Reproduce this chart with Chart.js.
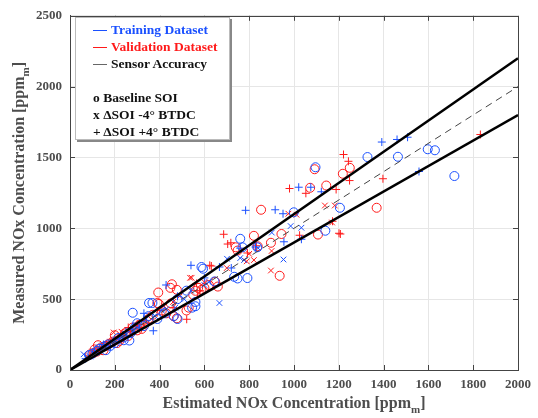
<!DOCTYPE html>
<html>
<head>
<meta charset="utf-8">
<script src="https://cdn.jsdelivr.net/npm/chart.js@4/dist/chart.umd.min.js"></script>
<style>
  body { margin: 0; background: #fff; }
  #wrap { position: relative; width: 538px; height: 418px; }
  #legend {
    position: absolute; left: 75px; top: 17px; width: 155px; height: 123px;
    background: #fff; border: 1px solid #bbb; box-shadow: 2px 2px 0 #888;
    font-family: 'Liberation Serif', serif; font-weight: bold; font-size: 13.5px;
    box-sizing: border-box; padding: 3px 0 0 17px; line-height: 17px;
  }
  #legend .ln { display: inline-block; width: 14px; height: 0; border-top: 1px solid; vertical-align: middle; margin-right: 4px; }
</style>
</head>
<body>
<div id="wrap">
  <canvas id="js-chart" width="538" height="418"></canvas>
  <div id="legend">
    <div style="color:#1a50ff"><span class="ln"></span>Training Dataset</div>
    <div style="color:#ff1a1a"><span class="ln"></span>Validation Dataset</div>
    <div style="color:#111"><span class="ln" style="border-color:#666"></span>Sensor Accuracy</div>
    <div>&nbsp;</div>
    <div style="color:#111">o Baseline SOI</div>
    <div style="color:#111">x ΔSOI -4° BTDC</div>
    <div style="color:#111">+ ΔSOI +4° BTDC</div>
  </div>
</div>
<script>
const xTicks = [0, 200, 400, 600, 800, 1000, 1200, 1400, 1600, 1800, 2000];
const yTicks = [0, 500, 1000, 1500, 2000, 2500];

// [estimated, measured]
const trainBaseline = [
  [1328,1503],[1464,1505],[1597,1558],[1629,1551],[1716,1369],[1096,1431],[1205,1145],[999,1113],
  [1140,983],[760,926],[770,866],[836,866],[733,658],[748,646],[792,649],[645,625],[594,715],[587,727],
  [353,473],[368,473],[280,404],[463,381],[265,208],[520,560],[560,450],[545,440],[480,360],[300,330],
  [420,400],[390,360],[240,230],[200,190],[170,180],[150,165],[120,135],[100,115],[85,105],[270,260],
  [330,310],[240,210],[480,500],[560,480],[130,150],[180,170],[215,225],[160,140],[290,300],[350,380]
];
const trainMinus4 = [
  [985,1016],[1033,1004],[953,780],[901,970],[777,776],[701,785],[667,473],[620,620],[540,560],[510,500],
  [470,440],[430,430],[380,380],[340,360],[300,300],[250,250],[200,210],[160,160],[130,140],[61,111],
  [90,95],[760,790],[840,860],[600,600],[110,120],[230,240],[280,270],[410,420]
];
const trainPlus4 = [
  [1392,1609],[1460,1627],[1507,1643],[1558,1401],[1021,1290],[1075,1290],[1122,1258],[784,1127],
  [916,1131],[951,1103],[1033,923],[955,905],[828,868],[540,739],[667,727],[429,600],[372,277],[720,720],
  [760,860],[600,650],[480,520],[330,400],[280,290],[220,220],[180,170],[140,150],[110,120],[70,80],
  [150,180],[250,270],[200,200]
];
const validBaseline = [
  [1092,1417],[1249,1427],[1218,1385],[1072,1286],[1144,1302],[1369,1145],[1107,956],[944,960],[897,898],
  [936,665],[853,1131],[821,947],[838,873],[740,866],[748,843],[660,589],[648,623],[572,580],[560,559],
  [550,531],[587,566],[455,605],[448,580],[477,566],[394,547],[397,466],[390,473],[477,365],[463,379],
  [410,420],[430,400],[450,470],[520,420],[530,440],[330,330],[300,280],[260,240],[230,230],[210,190],
  [190,200],[160,170],[140,160],[120,130],[110,145],[90,110],[310,320],[350,360],[600,580],[620,600],
  [125,175],[175,185],[200,245],[245,260],[280,300],[150,140],[105,120],[220,205],[320,290],[370,390]
];
const validMinus4 = [
  [1138,1161],[1182,1161],[975,1103],[1011,1096],[1170,1041],[897,702],[900,840],[821,776],[789,767],
  [543,651],[536,651],[195,265],[420,450],[460,480],[350,340],[300,310],[250,250],[220,230],[180,200],
  [150,155],[130,125],[600,620],[700,720],[490,520],[800,820],[100,130],[170,180],[270,280],[330,320],
  [230,270]
];
const validPlus4 = [
  [1832,1662],[1221,1521],[1243,1473],[1248,1337],[1397,1350],[980,1281],[1053,1247],[1188,1274],
  [1025,951],[1172,1050],[1201,965],[1207,960],[686,958],[718,898],[704,889],[792,826],[832,877],
  [624,739],[631,734],[565,611],[521,358],[400,420],[340,350],[300,320],[270,280],[240,240],[200,220],
  [160,175],[120,130],[90,100],[580,560],[460,440],[140,165],[180,195],[215,235],[260,300],[310,300]
];
// sensor accuracy bands: +10 %, ideal, -10 %
const accuracyX = [0, 2000];
const upperBand = [0, 2200];
const idealLine = [0, 2000];
const lowerBand = [0, 1800];

const BLUE = '#1a50ff';
const RED = '#ff1a1a';
const FONT = 'Liberation Serif';

const toPts = arr => arr.map(p => ({ x: p[0], y: p[1] }));
const linePts = ys => accuracyX.map((x, i) => ({ x: x, y: ys[i] }));

function markers(data, color, style) {
  return {
    type: 'scatter', data: toPts(data), pointStyle: style,
    pointRadius: style === 'circle' ? 4.5 : 4, borderColor: color, backgroundColor: 'transparent',
    pointBorderWidth: 1, showLine: false
  };
}
function band(ys, width, dash, color) {
  return {
    type: 'line', data: linePts(ys), borderColor: color, borderWidth: width, borderDash: dash,
    pointRadius: 0, fill: false
  };
}

// inside tick marks, frame box and axis titles with subscript
const matlabFrame = {
  id: 'matlabFrame',
  afterDraw(chart) {
    const { ctx, chartArea: a, scales } = chart;
    ctx.save();
    ctx.strokeStyle = '#444';
    ctx.lineWidth = 1;
    ctx.beginPath();
    xTicks.forEach(v => {
      const px = Math.round(scales.x.getPixelForValue(v)) + 0.5;
      ctx.moveTo(px, a.bottom); ctx.lineTo(px, a.bottom - 5);
      ctx.moveTo(px, a.top); ctx.lineTo(px, a.top + 5);
    });
    yTicks.forEach(v => {
      const py = Math.round(scales.y.getPixelForValue(v)) + 0.5;
      ctx.moveTo(a.left, py); ctx.lineTo(a.left + 5, py);
      ctx.moveTo(a.right, py); ctx.lineTo(a.right - 5, py);
    });
    ctx.stroke();
    ctx.strokeRect(Math.round(a.left) + 0.5, Math.round(a.top) + 0.5,
      Math.round(a.right - a.left), Math.round(a.bottom - a.top));

    ctx.fillStyle = '#4d4d4d';
    const drawTitle = (main, sub, cx, cy) => {
      ctx.font = 'bold 16px ' + FONT;
      const w1 = ctx.measureText(main).width;
      ctx.font = 'bold 11px ' + FONT;
      const w2 = ctx.measureText(sub).width;
      ctx.font = 'bold 16px ' + FONT;
      const w3 = ctx.measureText(']').width;
      let x = cx - (w1 + w2 + w3) / 2;
      ctx.textBaseline = 'alphabetic';
      ctx.textAlign = 'left';
      ctx.fillText(main, x, cy);
      ctx.font = 'bold 11px ' + FONT;
      ctx.fillText(sub, x + w1, cy + 5);
      ctx.font = 'bold 16px ' + FONT;
      ctx.fillText(']', x + w1 + w2, cy);
    };
    drawTitle('Estimated NOx Concentration [ppm', 'm', (a.left + a.right) / 2, 408);
    ctx.translate(24, (a.top + a.bottom) / 2);
    ctx.rotate(-Math.PI / 2);
    drawTitle('Measured NOx Concentration [ppm', 'm', 0, 0);
    ctx.restore();
  }
};

const tickFont = { family: FONT, weight: 'bold', size: 13 };

new Chart(document.getElementById('js-chart'), {
  data: {
    datasets: [
      band(upperBand, 2.5, [], '#000'),
      band(idealLine, 1, [7, 5], '#444'),
      band(lowerBand, 2.5, [], '#000'),
      markers(trainBaseline, BLUE, 'circle'),
      markers(trainMinus4, BLUE, 'crossRot'),
      markers(trainPlus4, BLUE, 'cross'),
      markers(validBaseline, RED, 'circle'),
      markers(validMinus4, RED, 'crossRot'),
      markers(validPlus4, RED, 'cross')
    ]
  },
  options: {
    responsive: false,
    animation: false,
    devicePixelRatio: 1,
    layout: { autoPadding: false, padding: { top: 9, right: 13, left: 0, bottom: 0 } },
    plugins: { legend: { display: false }, tooltip: { enabled: false } },
    scales: {
      x: {
        type: 'linear', min: 0, max: 2000,
        afterBuildTicks: s => { s.ticks = xTicks.map(v => ({ value: v })); },
        afterFit: s => { s.height = 48; },
        ticks: { font: tickFont, color: '#4d4d4d', padding: 7, maxRotation: 0, callback: v => String(v) },
        grid: { color: '#e6e6e6', drawTicks: false },
        border: { color: '#444' }
      },
      y: {
        type: 'linear', min: 0, max: 2500,
        afterBuildTicks: s => { s.ticks = yTicks.map(v => ({ value: v })); },
        afterFit: s => { s.width = 70; },
        ticks: { font: tickFont, color: '#4d4d4d', padding: 8, callback: v => String(v) },
        grid: { color: '#e6e6e6', drawTicks: false },
        border: { color: '#444' }
      }
    }
  },
  plugins: [matlabFrame]
});
</script>
</body>
</html>
